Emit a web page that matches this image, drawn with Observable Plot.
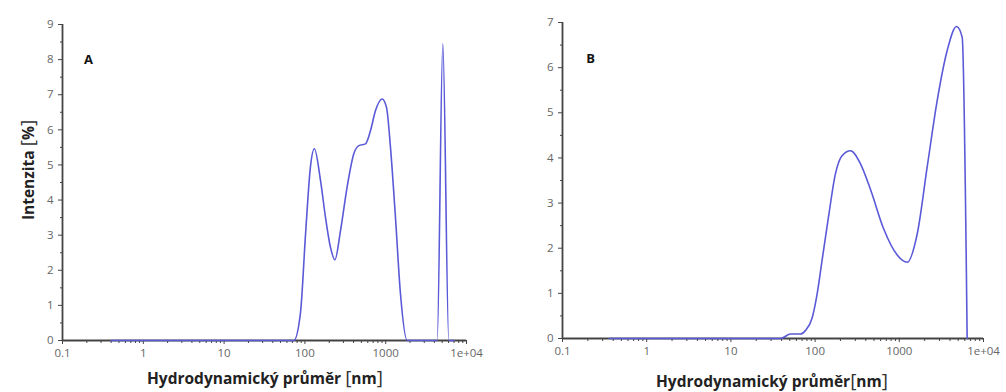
<!DOCTYPE html>
<html>
<head>
<meta charset="utf-8">
<script src="https://cdn.jsdelivr.net/npm/d3@7"></script>
<script src="https://cdn.jsdelivr.net/npm/@observablehq/plot@0.6"></script>
<style>
  html, body { margin: 0; padding: 0; background: #fff; }
  #wrap { position: relative; width: 1006px; height: 392px; overflow: hidden; font-family: "Open Sans", sans-serif; }
  .panel { position: absolute; top: 0; }
  .xtitle { position: absolute; font-weight: 700; font-size: 15.5px; color: #222; white-space: nowrap; transform: translateX(-50%); }
  .xtitle .br { font-weight: 400; font-size: 19px; color: #333; }
  .ytitle { position: absolute; font-weight: 700; font-size: 15.5px; color: #222; white-space: nowrap; transform: translate(-50%, -50%) rotate(-90deg); }
  .ytitle .br { font-weight: 400; font-size: 19px; color: #333; }
</style>
</head>
<body>
<div id="wrap"></div>
<script>
// Panel A: hydrodynamic diameter (nm) vs intensity (%)
const sizeA = [0.4, 10, 50, 73, 88, 102, 117, 131, 156, 180, 207, 235, 276, 333, 403, 465, 562, 649, 748, 904, 1023, 1146, 1321, 1523, 1845, 3000, 4335, 5093, 6040, 7000];
const intensityA = [0, 0, 0, 0, 0.77, 3.05, 4.94, 5.46, 4.56, 3.5, 2.66, 2.3, 3.13, 4.37, 5.32, 5.55, 5.6, 5.98, 6.55, 6.88, 6.64, 5.5, 3.5, 1.33, 0, 0, 0, 8.45, 0, 0];

// Panel B
const sizeB = [0.36, 10, 30, 39, 51, 67, 77, 92, 106, 121, 146, 174, 209, 263, 346, 455, 655, 944, 1242, 1633, 2144, 2818, 3705, 4786, 5585, 6395];
const intensityB = [0, 0, 0, 0, 0.1, 0.1, 0.18, 0.45, 1.0, 1.73, 2.76, 3.64, 4.05, 4.16, 3.87, 3.3, 2.42, 1.85, 1.69, 2.32, 3.8, 5.27, 6.38, 6.91, 6.67, 0];

const xMajor = [0.1, 1, 10, 100, 1000, 10000];
const xMinor = [];
for (const base of [0.1, 1, 10, 100, 1000]) for (let k = 2; k <= 9; k++) xMinor.push(+(base * k).toPrecision(3));
const yMaxA = 9, yMaxB = 7;
const panelLabels = ["A", "B"];
const xTitle = ["Hydrodynamický průměr", "nm"];
const yTitle = ["Intenzita", "%"];

const lineColor = "#5a5ad8";
const axisColor = "#444";
const fmtX = d => d === 10000 ? "1e+04" : String(d);

function panel(sizes, values, yMax, label, opts) {
  const data = sizes.map((s, i) => ({size: s, value: values[i]}));
  const yMajor = d3.range(0, yMax + 1);
  const yMinor = d3.range(0.5, yMax, 1);
  return Plot.plot({
    width: opts.width,
    height: 392,
    marginLeft: 62,
    marginRight: opts.marginRight,
    marginTop: opts.marginTop,
    marginBottom: opts.marginBottom,
    style: {fontFamily: "Open Sans, sans-serif", fontSize: "11.5px", color: "#666", background: "transparent"},
    x: {type: "log", domain: [0.1, 10000]},
    y: {domain: [0, yMax]},
    marks: [
      Plot.axisX({ticks: xMajor, tickFormat: fmtX, tickSize: 4, tickPadding: 4, label: null, stroke: axisColor, fill: "#666"}),
      Plot.axisX({ticks: xMinor, tickSize: 3, text: null, label: null, stroke: axisColor}),
      Plot.axisY({ticks: yMajor, tickFormat: d => String(d), tickSize: 4, tickPadding: 5, label: null, stroke: axisColor, fill: "#666"}),
      Plot.axisY({ticks: yMinor, tickSize: 2, text: null, label: null, stroke: axisColor}),
      Plot.ruleY([0], {stroke: axisColor, strokeWidth: 1.8}),
      Plot.ruleX([0.1], {stroke: axisColor, strokeWidth: 1.8}),
      Plot.line(data, {x: "size", y: "value", stroke: lineColor, strokeWidth: 1.6, curve: "monotone-x"}),
      Plot.text([label], {frameAnchor: "top-left", dx: opts.labelDx, dy: opts.labelDy, text: d => d, fontWeight: "bold", fontSize: 13, fill: "#111", textAnchor: "middle", lineAnchor: "middle"})
    ]
  });
}

const wrap = document.getElementById("wrap");

const divA = document.createElement("div");
divA.className = "panel"; divA.style.left = "0px";
divA.appendChild(panel(sizeA, intensityA, yMaxA, panelLabels[0], {width: 500, marginRight: 34, marginTop: 24, marginBottom: 52, labelDx: 26, labelDy: 35}));
wrap.appendChild(divA);

const divB = document.createElement("div");
divB.className = "panel"; divB.style.left = "500px";
divB.appendChild(panel(sizeB, intensityB, yMaxB, panelLabels[1], {width: 506, marginRight: 23, marginTop: 22, marginBottom: 54, labelDx: 28, labelDy: 36}));
wrap.appendChild(divB);

function addTitle(cls, left, top, parts, gap) {
  const d = document.createElement("div");
  d.className = cls;
  d.style.left = left + "px";
  d.style.top = top + "px";
  const main = document.createElement("span");
  main.textContent = parts[0] + gap;
  const b1 = document.createElement("span"); b1.className = "br"; b1.textContent = "[";
  const mid = document.createElement("span"); mid.textContent = parts[1];
  const b2 = document.createElement("span"); b2.className = "br"; b2.textContent = "]";
  d.append(main, b1, mid, b2);
  wrap.appendChild(d);
}
addTitle("xtitle", 265, 364, xTitle, " ");
addTitle("xtitle", 772, 367, xTitle, "");
addTitle("ytitle", 27, 170, yTitle, " ");
</script>
</body>
</html>
